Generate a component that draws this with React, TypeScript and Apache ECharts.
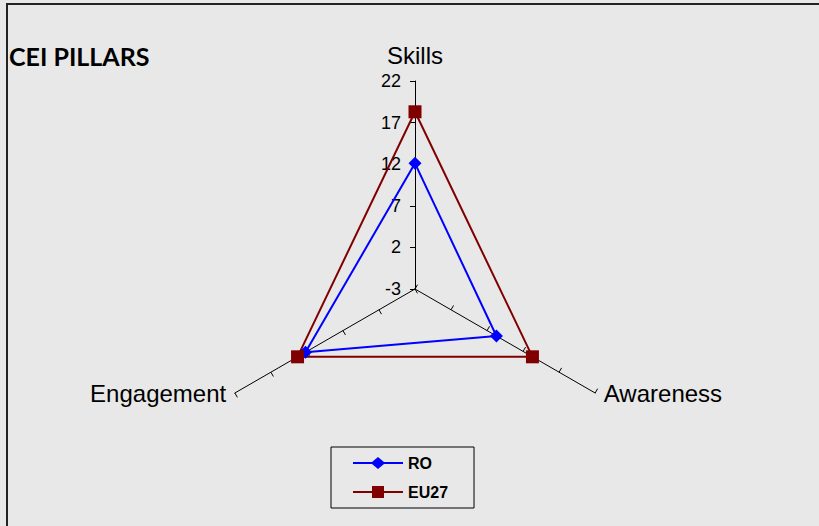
import React, { useEffect, useRef } from "react";
import * as echarts from "echarts";

const indicators = ["Skills", "Engagement", "Awareness"];
const roValues = [12.1, 12.2, 8.3];
const eu27Values = [18.3, 13.3, 13.3];
const axisMin = -3;
const axisMax = 22;
const splitCount = 5;

const roIcon = "path://M0,5 L19,5 L25,0 L31,5 L50,5 L50,7 L31,7 L25,12 L19,7 L0,7 Z";
const euIcon = "path://M0,5 L19,5 L19,0 L31,0 L31,5 L50,5 L50,7 L31,7 L31,12 L19,12 L19,7 L0,7 Z";

export default function App() {
  const ref = useRef<HTMLDivElement>(null);
  useEffect(() => {
    if (!ref.current) return;
    const chart = echarts.init(ref.current, undefined, { renderer: "svg" });
    chart.setOption({
      animation: false,
      backgroundColor: "#e8e8e8",
      title: {
        text: "CEI PILLARS",
        left: 4,
        top: 38,
        textStyle: { fontFamily: "Lato", fontWeight: "bold", fontSize: 25, color: "#000" },
      },
      legend: {
        orient: "vertical",
        left: 331,
        top: 447,
        itemWidth: 50,
        itemHeight: 12,
        itemGap: 13,
        padding: [8, 26, 8, 22],
        borderColor: "#000",
        borderWidth: 1,
        textStyle: { fontFamily: "Liberation Sans", fontWeight: "bold", fontSize: 16, color: "#000" },
        data: [
          { name: "RO", icon: roIcon, itemStyle: { color: "#0000ff" } },
          { name: "EU27", icon: euIcon, itemStyle: { color: "#800000" } },
        ],
      },
      radar: {
        center: [415, 289],
        radius: 208,
        startAngle: 90,
        splitNumber: splitCount,
        shape: "polygon",
        axisName: {
          color: "#000",
          fontFamily: "Liberation Sans",
          fontSize: 24,
          formatter: (value: string) => (value === "Skills" ? value : "{b|" + value + "}"),
          rich: {
            b: {
              fontFamily: "Liberation Sans",
              fontSize: 24,
              color: "#000",
              padding: [0, 0, 10, 0],
            },
          },
        },
        nameGap: 10,
        axisLine: { show: true, lineStyle: { color: "#000", width: 1 } },
        axisTick: { show: true, length: 5, lineStyle: { color: "#000", width: 1 } },
        axisLabel: {
          show: true,
          color: "#000",
          fontFamily: "Liberation Sans",
          fontSize: 18,
          margin: 14,
        },
        splitLine: { show: false },
        splitArea: { show: false },
        indicator: indicators.map((name, i) => {
          const ind: any = { name, min: axisMin, max: axisMax };
          if (i !== 0) {
            ind.axisLabel = { show: false };
          } else {
            ind.nameTextStyle = { padding: [0, 0, 4, 0] };
          }
          return ind;
        }),
      },
      series: [
        {
          type: "radar",
          symbolKeepAspect: true,
          data: [
            {
              name: "RO",
              value: roValues,
              symbol: "diamond",
              symbolSize: 13,
              lineStyle: { color: "#0000ff", width: 2 },
              itemStyle: { color: "#0000ff" },
            },
            {
              name: "EU27",
              value: eu27Values,
              symbol: "rect",
              symbolSize: 13,
              lineStyle: { color: "#800000", width: 2 },
              itemStyle: { color: "#800000" },
            },
          ],
        },
      ],
    });
    return () => chart.dispose();
  }, []);
  return (
    <div style={{ position: "fixed", left: 0, top: 0, width: 819, height: 526 }}>
      <div ref={ref} style={{ position: "absolute", left: 0, top: 0, width: 819, height: 526 }} />
      <div
        style={{
          position: "absolute",
          left: 6,
          top: 3,
          width: 813,
          height: 523,
          borderLeft: "2px solid #222",
          borderTop: "2px solid #222",
          pointerEvents: "none",
          boxSizing: "border-box",
        }}
      />
    </div>
  );
}
